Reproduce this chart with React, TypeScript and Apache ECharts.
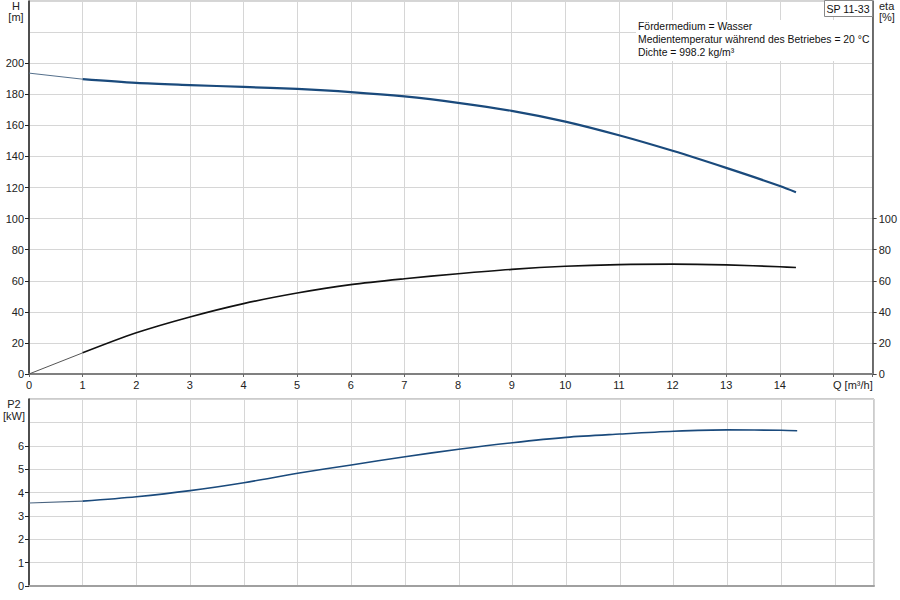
import React, { useEffect, useRef } from "react";
import * as echarts from "echarts";

const Q = [0, 1, 2, 3, 4, 5, 6, 7, 8, 9, 10, 11, 12, 13, 14, 14.3];
const H = [193.6, 189.7, 187.3, 185.9, 184.7, 183.4, 181.4, 178.6, 174.5, 169.3, 162.4, 153.6, 143.6, 132.6, 121.0, 117.0];
const ETA = [0, 13.6, 26.5, 36.7, 45.3, 52.1, 57.5, 61.3, 64.5, 67.3, 69.3, 70.4, 70.7, 70.2, 69.0, 68.5];
const P2 = [3.55, 3.63, 3.82, 4.08, 4.42, 4.82, 5.18, 5.53, 5.85, 6.13, 6.36, 6.5, 6.62, 6.68, 6.66, 6.64];

const X_LABELS = [0, 1, 2, 3, 4, 5, 6, 7, 8, 9, 10, 11, 12, 13, 14];
const H_LABELS = [0, 20, 40, 60, 80, 100, 120, 140, 160, 180, 200];
const ETA_LABELS = [0, 20, 40, 60, 80, 100];
const P2_LABELS = [0, 1, 2, 3, 4, 5, 6];

const INFO_LINES = [
  "Fördermedium = Wasser",
  "Medientemperatur während des Betriebes = 20 °C",
  "Dichte = 998.2 kg/m³",
];
const TITLE = "SP 11-33";

const X_MAX = 15.73;
const FONT = "'Liberation Sans', Arial, sans-serif";

function pts(ys: number[], from: number, to: number) {
  const out: number[][] = [];
  for (let i = from; i <= to; i++) out.push([Q[i], ys[i]]);
  return out;
}

export default function App() {
  const ref = useRef<HTMLDivElement>(null);
  useEffect(() => {
    document.body.style.margin = "0";
    const chart = echarts.init(ref.current!, null, { renderer: "svg" });
    const split = Q.findIndex((q) => q >= 1);
    const last = Q.length - 1;
    const gridLine = { show: true, lineStyle: { color: "#d6d6d6", width: 1 } };
    const lbl = { fontSize: 11, color: "#222", fontFamily: FONT };
    const smoothLine = { smooth: 0.3 };
    const option: any = {
      animation: false,
      grid: [
        { left: 29, right: 26, top: 1, height: 373, show: true, borderColor: "#aaa", borderWidth: 1 },
        { left: 29, right: 26, top: 399, height: 187, show: true, borderColor: "#999", borderWidth: 1 },
      ],
      xAxis: [
        {
          gridIndex: 0, type: "value", min: 0, max: X_MAX, interval: 1,
          axisLine: { show: true, onZero: false, lineStyle: { color: "#808080", width: 2 } },
          axisTick: { show: true, length: 3, lineStyle: { color: "#666" } },
          axisLabel: { ...lbl, margin: 5, customValues: X_LABELS },
          splitLine: gridLine,
        },
        {
          gridIndex: 1, type: "value", min: 0, max: X_MAX, interval: 1,
          axisLine: { show: true, onZero: false, lineStyle: { color: "#a0a0a0", width: 2 } },
          axisTick: { show: false },
          axisLabel: { show: false },
          splitLine: gridLine,
        },
      ],
      yAxis: [
        {
          gridIndex: 0, type: "value", min: 0, max: 240, interval: 20, position: "left",
          axisLine: { show: true, lineStyle: { color: "#222", width: 1.5 } },
          axisTick: { show: false },
          axisLabel: { ...lbl, margin: 5, customValues: H_LABELS },
          splitLine: gridLine,
        },
        {
          gridIndex: 0, type: "value", min: 0, max: 240, interval: 20, position: "right",
          axisLine: { show: true, lineStyle: { color: "#444", width: 1.5 } },
          axisTick: { show: true, length: 4, lineStyle: { color: "#444" }, customValues: ETA_LABELS },
          axisLabel: { ...lbl, margin: 6, customValues: ETA_LABELS },
          splitLine: { show: false },
        },
        {
          gridIndex: 0, type: "value", min: 0, max: 240, interval: 20, position: "left",
          axisLine: { show: false },
          axisTick: { show: true, length: 4, lineStyle: { color: "#222" }, customValues: H_LABELS },
          axisLabel: { show: false },
          splitLine: { show: false },
        },
        {
          gridIndex: 1, type: "value", min: 0, max: 8, interval: 1, position: "left",
          axisLine: { show: true, lineStyle: { color: "#222", width: 1.5 } },
          axisTick: { show: false },
          axisLabel: { ...lbl, margin: 5, customValues: P2_LABELS },
          splitLine: gridLine,
        },
        {
          gridIndex: 1, type: "value", min: 0, max: 8, interval: 1, position: "left",
          axisLine: { show: false },
          axisTick: { show: true, length: 4, lineStyle: { color: "#222" }, customValues: P2_LABELS },
          axisLabel: { show: false },
          splitLine: { show: false },
        },
      ],
      series: [
        {
          type: "line", xAxisIndex: 0, yAxisIndex: 0, data: pts(H, 0, split), showSymbol: false,
          lineStyle: { color: "#55708c", width: 1 }, silent: true,
        },
        {
          type: "line", xAxisIndex: 0, yAxisIndex: 0, data: pts(H, split, last), showSymbol: false, ...smoothLine,
          lineStyle: { color: "#1a4a7c", width: 2.2 }, silent: true,
        },
        {
          type: "line", xAxisIndex: 0, yAxisIndex: 1, data: pts(ETA, 0, split), showSymbol: false,
          lineStyle: { color: "#555", width: 1 }, silent: true,
        },
        {
          type: "line", xAxisIndex: 0, yAxisIndex: 1, data: pts(ETA, split, last), showSymbol: false, ...smoothLine,
          lineStyle: { color: "#111", width: 1.6 }, silent: true,
        },
        {
          type: "line", xAxisIndex: 1, yAxisIndex: 3, data: pts(P2, 0, split), showSymbol: false,
          lineStyle: { color: "#4a6480", width: 1.2 }, silent: true,
        },
        {
          type: "line", xAxisIndex: 1, yAxisIndex: 3, data: pts(P2, split, last), showSymbol: false, ...smoothLine,
          lineStyle: { color: "#1a4a7c", width: 1.6 }, silent: true,
        },
      ],
      graphic: [
        { type: "text", x: 16, y: 6, style: { text: "H", font: `11px ${FONT}`, fill: "#222", align: "center", verticalAlign: "middle" } },
        { type: "text", x: 16, y: 17, style: { text: "[m]", font: `11px ${FONT}`, fill: "#222", align: "center", verticalAlign: "middle" } },
        { type: "text", x: 879, y: 6, style: { text: "eta", font: `11px ${FONT}`, fill: "#222", align: "left", verticalAlign: "middle" } },
        { type: "text", x: 879, y: 17, style: { text: "[%]", font: `11px ${FONT}`, fill: "#222", align: "left", verticalAlign: "middle" } },
        { type: "text", x: 14, y: 404, style: { text: "P2", font: `11px ${FONT}`, fill: "#222", align: "center", verticalAlign: "middle" } },
        { type: "text", x: 14, y: 416, style: { text: "[kW]", font: `11px ${FONT}`, fill: "#222", align: "center", verticalAlign: "middle" } },
        { type: "text", x: 833, y: 385, style: { text: "Q [m³/h]", font: `11px ${FONT}`, fill: "#222", align: "left", verticalAlign: "middle" } },
        { type: "rect", shape: { x: 636, y: 20, width: 236, height: 41 }, style: { fill: "#fff" }, z: 10 },
        ...INFO_LINES.map((t, i) => ({
          type: "text", x: 638, y: 26 + i * 13.3, z: 11,
          style: { text: t, font: `10.4px ${FONT}`, fill: "#111", align: "left", verticalAlign: "middle" },
        })),
        { type: "rect", shape: { x: 824.5, y: 0.5, width: 48, height: 16 }, style: { fill: "#fff", stroke: "#888", lineWidth: 1 }, z: 10 },
        { type: "text", x: 848, y: 8.5, z: 11, style: { text: TITLE, font: `10.6px ${FONT}`, fill: "#111", align: "center", verticalAlign: "middle" } },
      ],
    };
    chart.setOption(option);
    return () => chart.dispose();
  }, []);
  return <div ref={ref} style={{ width: 900, height: 600 }} />;
}
